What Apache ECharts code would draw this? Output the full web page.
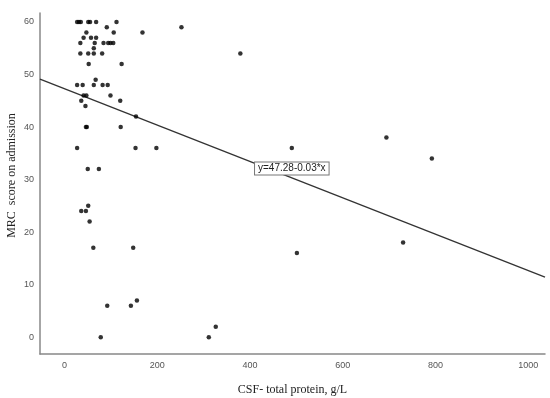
<!DOCTYPE html>
<html>
<head>
<meta charset="utf-8">
<script src="https://cdn.jsdelivr.net/npm/echarts@6/dist/echarts.min.js"></script>
<style>html,body{margin:0;padding:0;background:#fff}#c{width:550px;height:398px}</style>
</head>
<body>
<div id="c"></div>
<script>
// CSF total protein (g/L) values
var protein = [27,31,35,51,55,68,112, 91,252, 47,106,168, 41,57,68, 34,65,84,94,99,105, 63,
  34,51,63,81,379, 52,123, 67, 27,39,63,82,93, 41,47,99, 36,120, 45, 154, 46,48,121,
  27,153,198,490, 694,792,730,501, 50,74, 51, 36,46, 54, 62,148, 156, 92,143, 326, 78,311];
// MRC score on admission
var mrc = [60,60,60,60,60,60,60, 59,59, 58,58,58, 57,57,57, 56,56,56,56,56,56, 55,
  54,54,54,54,54, 52,52, 49, 48,48,48,48,48, 46,46,46, 45,45, 44, 42, 40,40,40,
  36,36,36,36, 38,34,18,16, 32,32, 25, 24,24, 22, 17,17, 7, 6,6, 2, 0,0];
var xTicks = [0,200,400,600,800,1000];
var yTicks = [0,10,20,30,40,50,60];
var intercept = 47.28, slope = -0.0346;
var fitLabel = 'y=47.28-0.03*x';
var xMin = -53, xMax = 1036, yMin = -3.2, yMax = 61.7;

var pts = protein.map(function(x,i){return [x, mrc[i]];});
var fit = [[xMin, intercept + slope*xMin],[xMax, intercept + slope*xMax]];

var chart = echarts.init(document.getElementById('c'), null, {renderer:'canvas'});
chart.setOption({
  animation:false,
  grid:{left:40,right:5,top:13,bottom:44,containLabel:false,outerBoundsMode:'none'},
  xAxis:{type:'value',min:xMin,max:xMax,
    name:'CSF- total protein, g/L',nameLocation:'middle',nameGap:30,nameMoveOverlap:false,
    nameTextStyle:{fontFamily:'Liberation Serif',fontSize:12,color:'#222'},
    axisLine:{show:true,onZero:false,lineStyle:{color:'#888',width:1.5}},
    axisTick:{show:false},splitLine:{show:false},
    axisLabel:{customValues:xTicks,formatter:function(v){return String(v);},fontFamily:'Liberation Sans',fontSize:9,color:'#555',margin:7}},
  yAxis:{type:'value',min:yMin,max:yMax,
    name:'MRC  score on admission',nameLocation:'middle',nameGap:22,nameMoveOverlap:false,
    nameTextStyle:{fontFamily:'Liberation Serif',fontSize:12,color:'#222',padding:[0,0,0,16]},
    axisLine:{show:true,onZero:false,lineStyle:{color:'#888',width:1.5}},
    axisTick:{show:false},splitLine:{show:false},
    axisLabel:{customValues:yTicks,formatter:function(v){return String(v);},fontFamily:'Liberation Sans',fontSize:9,color:'#555',margin:6}},
  series:[
    {type:'line',data:fit,symbol:'none',lineStyle:{color:'#333',width:1.3},z:2,
     markPoint:{symbol:'rect',symbolSize:0,silent:true,
       data:[{coord:[490,32.1],value:fitLabel}],
       label:{show:true,position:'inside',formatter:fitLabel,fontFamily:'Liberation Sans',fontSize:10,color:'#222',
         backgroundColor:'#fff',borderColor:'#777',borderWidth:1,padding:[1,3,1,3]}}},
    {type:'scatter',data:pts,symbol:'circle',symbolSize:4.5,itemStyle:{color:'#000'},z:3}
  ]
});
</script>
</body>
</html>
